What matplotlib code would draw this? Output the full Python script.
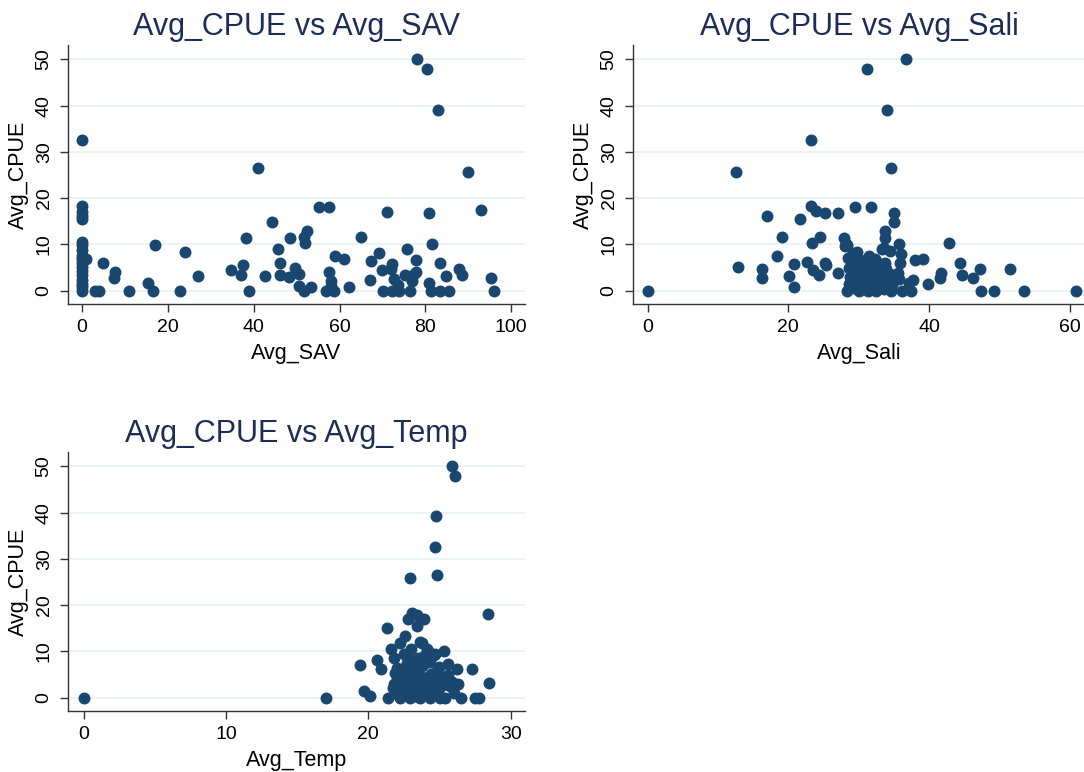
import matplotlib
matplotlib.use("Agg")
import matplotlib.pyplot as plt

plt.rcParams['font.family'] = ['Liberation Sans', 'DejaVu Sans']

# ---------------- data ----------------
sav_x = [0]*18 + [0.9,
    78.0, 80.3, 83.0, 41, 89.9, 93, 55.3, 57.6, 71.1, 80.9, 44.3, 52.5, 51.6, 52, 48.4,
    38.1, 64.9, 81.6, 16.9, 45.6, 23.9, 75.6, 58.9, 61.1, 69.1, 67.2, 77.8, 4.9, 46, 83.4,
    37.4, 72.3, 34.6, 7.6, 7.4, 49.5, 69.9, 87.8, 77.9, 57.5, 46.2, 48.3, 50.5, 37, 42.5,
    26.9, 15.3, 84.8, 88.5, 75.3, 72.7, 67.1, 58, 95.3, 80.8, 50.5, 53.4, 62.3, 76.8, 77.2,
    72.0, 73.5, 57.9,
    2.9, 4.0, 10.9, 16.5, 22.9, 38.9, 51.6, 56.8, 58.6, 70.1, 72.2, 73.9, 76.4, 81.3, 83.3,
    85.4, 95.9]
sav_y = [32.6, 18.3, 17.0, 16.2, 15.4, 10.5, 9.8, 8.7, 7.6, 6.9, 5.9, 5.1, 4.2, 3.3, 2.3,
    1.4, 0.7, 0.0, 6.9,
    50, 48, 39.1, 26.5, 25.7, 17.4, 18, 18, 17, 16.8, 14.9, 13, 11.7, 10.4, 11.4,
    11.3, 11.6, 10.1, 9.9, 9, 8.3, 9, 7.4, 6.9, 8.1, 6.4, 6.7, 6, 6, 5.9,
    5.6, 5.7, 4.5, 4, 2.7, 4.9, 4.5, 4.8, 4.1, 4.1, 3.4, 2.9, 3.6, 3.4, 3.1,
    3.1, 1.6, 3.1, 3.3, 3.3, 2.5, 2.4, 2.2, 2.8, 1.6, 1.1, 0.8, 0.7, 2.2, 3.3,
    4.6, 1.2, 1.0,
    0, 0, 0, 0, 0, 0, 0, 0, 0, 0, 0, 0, 0, 0, 0,
    0, 0]

sali_x = [0,
    36.7, 31.2, 34, 23.2, 12.5, 34.6, 23.2, 23.9, 25.2, 27.1, 29.5, 31.8, 35, 35, 17,
    21.7, 33.8, 33.8, 19.1, 23.4, 24.5, 27.9, 28.2, 28.1, 29.8, 33.3, 35.8, 36, 34.4, 42.9,
    18.4, 28.5, 30.7, 32.3, 33.8, 35.9, 38, 39.1, 12.9, 16.3, 16.3, 20.8, 22.7, 23.5, 24.4,
    25.4, 27.1, 20.1, 20.8, 29.2, 30.1, 31.3, 32.5, 34.4, 35.6, 35.7, 37.7, 37.1, 39.9, 41.7,
    41.6, 44.4, 44.7, 46.2, 47.3, 51.5, 28.3, 29.2, 33.6, 25.2,
    28.6, 29.0, 29.8, 30.5, 31.0, 31.8, 32.2, 32.8, 33.3, 33.9, 30.2, 28.8, 31.5, 29.5, 32.8,
    34.8, 30.9, 28.6, 33.0, 31.2, 29.6,
    29.3, 30.0, 30.7, 31.4, 32.1, 32.9, 33.6, 34.2, 29.9, 31.7, 30.4, 32.5,
    28.4, 30.1, 31.3, 32.4, 34.6, 36.2, 37.4, 47.4, 49.3, 53.5, 60.9]
sali_y = [0,
    50, 48, 39.1, 32.6, 25.7, 26.5, 18.3, 17.2, 16.9, 16.7, 18, 18, 16.9, 14.9, 16.1,
    15.4, 13, 11.3, 11.6, 10.4, 11.6, 11.4, 10.1, 9.6, 8.4, 9, 10.1, 8, 8.5, 10.4,
    7.5, 7.1, 6.5, 6.9, 6, 6, 6.7, 6.9, 5.2, 4.6, 2.8, 5.7, 6.2, 4.5, 3.3,
    5.6, 3.8, 3.1, 0.7, 3.4, 4.3, 3.6, 4.3, 3.6, 3.8, 2.5, 2.3, 1.6, 1.4, 3.8,
    2.8, 6, 3.3, 2.8, 4.6, 4.8, 9.9, 8.1, 9.3, 5.9,
    5.0, 2.0, 1.0, 2.5, 5.2, 1.5, 2.8, 0.8, 2.0, 4.8, 6.0, 3.0, 7.5, 5.5, 5.5,
    1.2, 0.5, 1.5, 3.5, 3.0, 4.2,
    0.6, 3.7, 1.8, 4.6, 0.9, 2.4, 0.4, 2.2, 7.0, 6.2, 5.0, 6.5,
    0, 0, 0, 0, 0, 0, 0, 0, 0, 0, 0]

temp_x = [0, 17,
    25.85, 26.1, 24.75, 24.7, 24.8, 22.9, 28.4, 23.05, 23.45, 23.9, 22.8, 23.45, 21.3, 22.55,
    22.2, 21.6, 23.75, 24.1, 24.6, 25.3, 19.4, 20.6, 20.9, 24.0, 24.96, 25.6, 26.2, 27.3, 28.5,
    19.7, 20.1, 26.3, 25.7, 23.6, 24.2, 24.7,
    21.4, 22.2, 22.9, 23.6, 24.3, 25.0, 25.4, 26.5, 27.5, 27.8,
    21.8, 22.0, 22.3, 22.1, 21.9, 22.5, 22.7, 22.9, 23.1, 23.3, 22.6, 23.5, 23.2, 23.8, 24.0,
    23.6, 22.4, 24.4, 24.6, 24.9, 25.2, 25.6, 24.3, 22.0, 21.7, 23.0, 25.9, 26.0, 24.2, 22.8,
    22.2, 22.6, 23.0, 23.4, 23.8, 24.2, 22.4, 22.8, 23.2, 23.6, 24.0, 21.9, 22.3, 23.9, 24.5,
    25.1, 22.5, 23.3, 24.8, 21.8, 22.9, 23.7]
temp_y = [0, 0,
    50, 47.9, 39.2, 32.5, 26.5, 25.8, 18.1, 18.3, 17.8, 17, 17, 15.6, 15, 13.3,
    11.8, 10.5, 11.8, 10.6, 9.3, 10.2, 7, 8.1, 6.1, 7.5, 6.7, 7.2, 6.1, 6.1, 3.2,
    1.5, 0.3, 3, 2.6, 12, 10.2, 9.5,
    0, 0, 0, 0, 0, 0, 0, 0, 0, 0,
    8.5, 6.5, 4.5, 2.5, 1.0, 9.5, 7.5, 5.5, 3.5, 1.5, 0.8, 8.5, 6.0, 4.5, 2.8,
    0.9, 3.2, 5.2, 3.5, 1.5, 4.2, 5.0, 7.8, 4.0, 2.0, 10.5, 3.5, 1.0, 0.5, 2.2,
    5.8, 4.8, 2.6, 5.0, 6.8, 4.0, 1.6, 3.8, 7.0, 2.0, 1.2, 5.4, 0.5, 9.0, 2.0,
    2.6, 6.4, 0.4, 5.8, 3.0, 8.2, 3.0]

y_ticks = [0, 10, 20, 30, 40, 50]
panels = [
    dict(x=sav_x, y=sav_y, title="Avg_CPUE vs Avg_SAV", xlabel="Avg_SAV",
         xticks=[0, 20, 40, 60, 80, 100], xlim=(-3.3, 103.2), rect=(68, 45, 525, 304)),
    dict(x=sali_x, y=sali_y, title="Avg_CPUE vs Avg_Sali", xlabel="Avg_Sali",
         xticks=[0, 20, 40, 60], xlim=(-2.1, 62.2), rect=(633, 45, 1085, 304)),
    dict(x=temp_x, y=temp_y, title="Avg_CPUE vs Avg_Temp", xlabel="Avg_Temp",
         xticks=[0, 10, 20, 30], xlim=(-1.09, 31.0), rect=(68, 452, 525, 711)),
]

W, H = 1084, 772
fig = plt.figure(figsize=(W/100, H/100), dpi=100)
fig.patch.set_facecolor('white')

marker_col = '#1a476f'
title_col = '#1e2d58'

for p in panels:
    l, t, r, b = p['rect']
    ax = fig.add_axes([l/W, 1 - b/H, (r-l)/W, (b-t)/H])
    ax.scatter(p['x'], p['y'], s=74, color=marker_col, linewidths=0, zorder=3)
    ax.set_xlim(*p['xlim'])
    ax.set_ylim(-2.87, 53.1)
    ax.set_xticks(p['xticks'])
    ax.set_yticks(y_ticks)
    ax.set_yticklabels([str(v) for v in y_ticks], rotation=90, va='center')
    ax.grid(axis='y', color='#eaf2f3', linewidth=1.3, zorder=0)
    ax.set_axisbelow(True)
    for s in ['top', 'right']:
        ax.spines[s].set_visible(False)
    for s in ['left', 'bottom']:
        ax.spines[s].set_color('#333333')
        ax.spines[s].set_linewidth(1.0)
    ax.tick_params(axis='both', direction='out', length=6, width=1.0, color='#333333',
                   labelsize=14, pad=5)
    ax.set_title(p['title'], fontsize=22, color=title_col, pad=7)
    ax.set_xlabel(p['xlabel'], fontsize=15.5, labelpad=5)
    ax.set_ylabel("Avg_CPUE", fontsize=15.5, labelpad=5)

fig.savefig("out.png", dpi=100, facecolor='white')
